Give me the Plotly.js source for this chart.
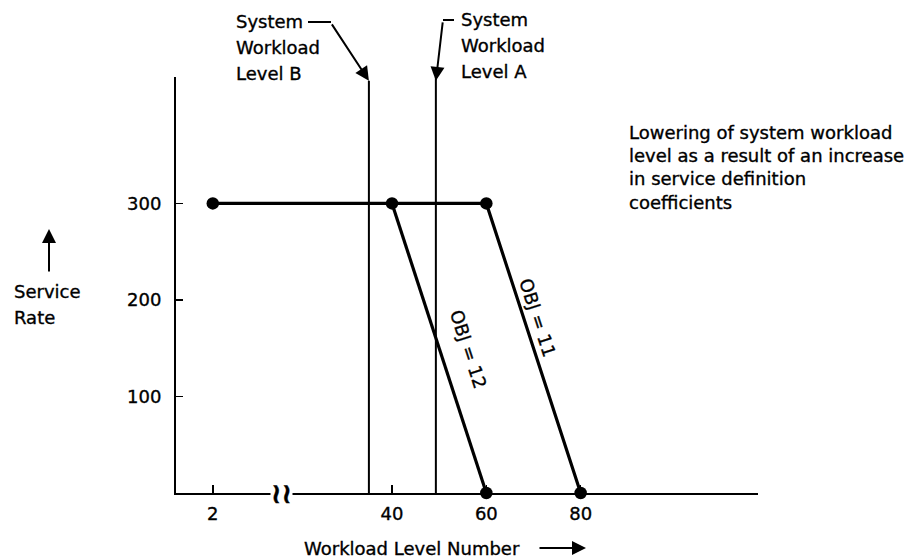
<!DOCTYPE html>
<html>
<head>
<meta charset="utf-8">
<script src="https://cdn.plot.ly/plotly-3.0.1.min.js"></script>
<style>
body{margin:0;background:#fff}
#chart text{stroke:#000;stroke-width:0.35px}
</style>
</head>
<body>
<div id="chart" style="width:905px;height:559px"></div>
<script>
// ---- data ----
const obj11X = [2, 60, 80];
const obj11Y = [300, 300, 0];
const obj12X = [40, 60];
const obj12Y = [300, 0];
const xTickVals = [2, 40, 60, 80];
const xTickText = ['2', '40', '60', '80'];
const yTickVals = [100, 200, 300];
const yTickText = ['100', '200', '300'];
const levelB = 35.1;   // System Workload Level B
const levelA = 49.3;   // System Workload Level A
const levelBTop = 427;
const levelATop = 431;
const xRange = [-5.8, 117.6];
const yRange = [0, 431];
const labelB = ['System', 'Workload', 'Level B'];
const labelA = ['System', 'Workload', 'Level A'];
const noteLines = ['Lowering of system workload', 'level as a result of an increase', 'in service definition', 'coefficients'];

const F = 'DejaVu Sans, Liberation Sans, Arial, sans-serif';
const FS = 18;
const blk = '#000';
const W = 582, H = 416, L = 176, B = 493;
const px = v => (v - L) / W;
const py = v => (B - v) / H;

const traces = [
  {x: [levelB, levelB], y: [0, levelBTop], mode: 'lines', line: {color: blk, width: 2}, hoverinfo: 'skip'},
  {x: [levelA, levelA], y: [0, levelATop], mode: 'lines', line: {color: blk, width: 2}, hoverinfo: 'skip'},
  {x: obj11X, y: obj11Y, mode: 'lines+markers', line: {color: blk, width: 3.2},
   marker: {color: blk, size: 12.5}, cliponaxis: false, name: 'OBJ = 11'},
  {x: obj12X, y: obj12Y, mode: 'lines+markers', line: {color: blk, width: 3.2},
   marker: {color: blk, size: 12.5}, cliponaxis: false, name: 'OBJ = 12'}
];

const txt = (x, y, t, extra) => Object.assign({x: px(x), y: py(y), xref: 'paper', yref: 'paper',
  xanchor: 'left', yanchor: 'middle', align: 'left', text: t, showarrow: false,
  font: {family: F, size: FS, color: blk}}, extra || {});

const annotations = [
  // System B arrow
  {x: levelB, y: levelBTop, xref: 'x', yref: 'y', text: '', showarrow: true,
   ax: -38, ay: -58, arrowhead: 2, arrowsize: 1.4, arrowwidth: 2, arrowcolor: blk},
  // System A arrow
  {x: levelA, y: levelATop - 4, xref: 'x', yref: 'y', text: '', showarrow: true,
   ax: 7, ay: -60, arrowhead: 2, arrowsize: 1.4, arrowwidth: 2, arrowcolor: blk},
  // Service Rate arrow
  {x: px(49), y: py(229), xref: 'paper', yref: 'paper', text: '', showarrow: true,
   ax: 0, ay: 44, arrowhead: 2, arrowsize: 1.4, arrowwidth: 2, arrowcolor: blk},
  // x title arrow
  {x: px(586), y: py(548), xref: 'paper', yref: 'paper', text: '', showarrow: true,
   ax: -48, ay: 0, arrowhead: 2, arrowsize: 1.4, arrowwidth: 2, arrowcolor: blk},
  txt(12, 291, 'Service'),
  txt(12, 317, 'Rate'),
  txt(302, 548, 'Workload Level Number'),
  // OBJ labels
  {x: px(538), y: py(317), xref: 'paper', yref: 'paper', text: 'OBJ = 11', textangle: 72,
   showarrow: false, font: {family: F, size: FS, color: blk}},
  {x: px(468), y: py(393), xref: 'paper', yref: 'paper', text: 'OBJ = 12', textangle: 72,
   showarrow: false, font: {family: F, size: FS, color: blk}},
  // axis break mark
  {x: px(281), y: 0, xref: 'paper', yref: 'paper', xanchor: 'center', yanchor: 'middle',
   text: '<b>≀≀</b>', showarrow: false, bgcolor: '#fff', borderpad: 0,
   font: {family: F, size: 28, color: blk}}
];
const bY = [22, 47, 73], aY = [20, 45, 71], nY = [132, 155, 178, 202];
labelB.forEach((t, i) => annotations.push(txt(234, bY[i], t)));
labelA.forEach((t, i) => annotations.push(txt(459, aY[i], t)));
noteLines.forEach((t, i) => annotations.push(txt(627, nY[i], t)));

const layout = {
  width: 905, height: 559,
  margin: {l: L, r: 905 - L - W, t: B - H, b: 559 - B},
  paper_bgcolor: '#fff', plot_bgcolor: '#fff',
  showlegend: false,
  font: {family: F, size: FS, color: blk},
  xaxis: {
    range: xRange, showgrid: false, zeroline: false,
    showline: true, linecolor: blk, linewidth: 2,
    tickmode: 'array', tickvals: xTickVals, ticktext: xTickText,
    ticks: 'inside', ticklen: 8, tickwidth: 1.5, tickcolor: blk,
    ticklabelstandoff: 3,
    tickfont: {family: F, size: FS, color: blk}
  },
  yaxis: {
    range: yRange, showgrid: false, zeroline: false,
    showline: true, linecolor: blk, linewidth: 2,
    tickmode: 'array', tickvals: yTickVals, ticktext: yTickText,
    ticks: 'inside', ticklen: 7, tickwidth: 1.5, tickcolor: blk,
    ticklabelstandoff: 9,
    tickfont: {family: F, size: FS, color: blk}
  },
  shapes: [
    {type: 'line', xref: 'paper', yref: 'paper', x0: px(308), x1: px(331),
     y0: py(22), y1: py(22), line: {color: blk, width: 2}},
    {type: 'line', xref: 'paper', yref: 'paper', x0: px(443), x1: px(454),
     y0: py(20), y1: py(20), line: {color: blk, width: 2}}
  ],
  annotations: annotations
};

Plotly.newPlot('chart', traces, layout, {displayModeBar: false, staticPlot: true});
</script>
</body>
</html>
